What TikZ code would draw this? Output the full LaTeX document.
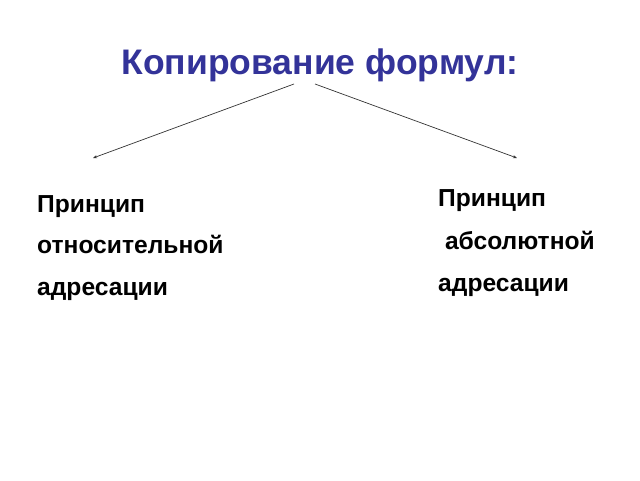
\documentclass[tikz,border=0pt]{standalone}
\usepackage{fontspec}
\setmainfont{Liberation Sans}
\usetikzlibrary{arrows.meta}
\definecolor{titleblue}{HTML}{333399}
\tikzset{
  titletext/.style={font=\bfseries\fontsize{35.5}{40}\selectfont, text=titleblue, inner sep=0pt},
  bodytext/.style={font=\bfseries\fontsize{24.6}{28}\selectfont, anchor=base west, inner sep=0pt},
  conn/.style={draw=black!80, line width=0.7pt, -{Stealth[length=4pt,width=3pt]}}
}
\begin{document}
\begin{tikzpicture}[x=1pt,y=-1pt]
\useasboundingbox (0,0) rectangle (640,480);
\node[titletext, anchor=base] (title) at (320,74) {Копирование формул:};
\coordinate (s1) at (294,84);
\coordinate (s2) at (315,84);
\coordinate (e1) at (93,158);
\coordinate (e2) at (517,158);
\draw[conn] (s1) -- (e1);
\draw[conn] (s2) -- (e2);
\node[bodytext] (l1) at (37,212) {Принцип};
\node[bodytext] (l2) at (37,253) {относительной};
\node[bodytext] (l3) at (37,295) {адресации};
\node[bodytext] (r1) at (438,206) {Принцип};
\node[bodytext] (r2) at (438,249) {\ абсолютной};
\node[bodytext] (r3) at (438,291) {адресации};
\end{tikzpicture}
\end{document}
